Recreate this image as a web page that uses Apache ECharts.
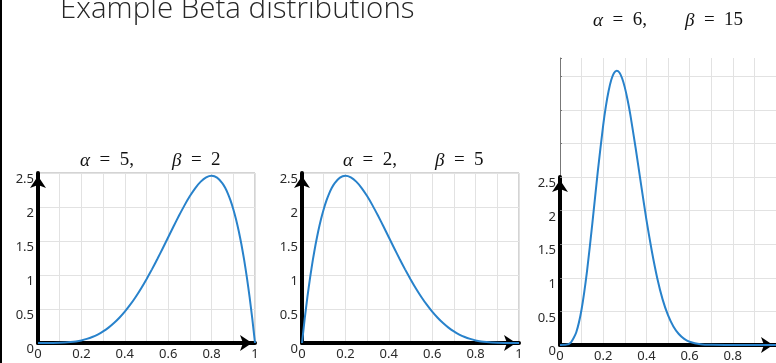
<!DOCTYPE html>
<html lang="en">
<head>
<meta charset="UTF-8">
<script src="https://cdn.jsdelivr.net/npm/echarts@6/dist/echarts.min.js"></script>
<style>
    html, body { margin: 0; padding: 0; background: #fff; }
    #main { width: 776px; height: 363px; }
</style>
</head>
<body>
<div id="main"></div>
<script type="text/javascript">
    // alpha = 5, beta = 2
    var x52 = [0, 0.05, 0.1, 0.125, 0.15, 0.175, 0.2, 0.225, 0.25, 0.275, 0.3, 0.325, 0.35, 0.375, 0.4, 0.425, 0.45, 0.475, 0.5, 0.525,
        0.55, 0.575, 0.6, 0.625, 0.65, 0.675, 0.7, 0.725, 0.75, 0.775, 0.8, 0.825, 0.85, 0.8625, 0.875, 0.8875, 0.9, 0.9125, 0.925, 0.9375,
        0.95, 0.9625, 0.975, 0.9875, 1];
    var y52 = [0, 0, 0.003, 0.006, 0.013, 0.023, 0.038, 0.060, 0.088, 0.124, 0.170, 0.226, 0.293, 0.371, 0.461, 0.563, 0.677, 0.802, 0.938, 1.083,
        1.235, 1.394, 1.555, 1.717, 1.874, 2.024, 2.161, 2.279, 2.373, 2.435, 2.458, 2.432, 2.349, 2.283, 2.198, 2.094, 1.968, 1.820, 1.647, 1.448,
        1.222, 0.966, 0.678, 0.357, 0];
    // alpha = 2, beta = 5
    var x25 = [0, 0.0125, 0.025, 0.0375, 0.05, 0.0625, 0.075, 0.0875, 0.1, 0.1125, 0.125, 0.1375, 0.15, 0.175, 0.2, 0.225, 0.25, 0.275, 0.3, 0.325,
        0.35, 0.375, 0.4, 0.425, 0.45, 0.475, 0.5, 0.525, 0.55, 0.575, 0.6, 0.625, 0.65, 0.675, 0.7, 0.725, 0.75, 0.775, 0.8, 0.825,
        0.85, 0.875, 0.9, 0.95, 1];
    var y25 = [0, 0.357, 0.678, 0.966, 1.222, 1.448, 1.647, 1.820, 1.968, 2.094, 2.198, 2.283, 2.349, 2.432, 2.458, 2.435, 2.373, 2.279, 2.161, 2.024,
        1.874, 1.717, 1.555, 1.394, 1.235, 1.083, 0.938, 0.802, 0.677, 0.563, 0.461, 0.371, 0.293, 0.226, 0.170, 0.124, 0.088, 0.060, 0.038, 0.023,
        0.013, 0.006, 0.003, 0, 0];
    // alpha = 6, beta = 15
    var x615 = [0, 0.025, 0.05, 0.075, 0.1, 0.125, 0.15, 0.175, 0.2, 0.2125, 0.225, 0.2375, 0.25, 0.2625, 0.275, 0.2875, 0.3, 0.3125, 0.325, 0.35,
        0.375, 0.4, 0.425, 0.45, 0.475, 0.5, 0.525, 0.55, 0.575, 0.6, 0.65, 0.7, 0.8, 0.9, 1];
    var y615 = [0, 0.002, 0.035, 0.185, 0.532, 1.095, 1.816, 2.584, 3.273, 3.555, 3.78, 3.947, 4.047, 4.081, 4.054, 3.969, 3.833, 3.653, 3.438, 2.935,
        2.394, 1.866, 1.398, 0.998, 0.679, 0.444, 0.276, 0.164, 0.092, 0.049, 0.012, 0.002, 0, 0, 0];

    var titles = [['5', '2'], ['2', '5'], ['6', '15']];

    function pairs(xs, ys) {
        return xs.map(function (x, i) { return [x, ys[i]]; });
    }

    var lblFont = { color: '#2a2a2a', fontSize: 13, fontFamily: 'Noto Sans' };
    var arrowLine = {
        show: true,
        symbol: ['none', 'arrow'],
        symbolSize: [12, 12],
        symbolOffset: [0, -3],
        lineStyle: { color: '#000', width: 4 }
    };
    var split = { show: true, lineStyle: { color: '#e2e2e2', width: 1 } };

    function xAx(grid, show) {
        return {
            type: 'value', gridIndex: grid, min: 0, max: 1, interval: 0.1, show: show,
            axisLine: arrowLine, axisTick: { show: false }, splitLine: split,
            axisLabel: Object.assign({ margin: 5, formatter: function (v) {
                var t = Math.round(v * 10);
                return t % 2 === 0 ? String(t / 10) : '';
            } }, lblFont)
        };
    }

    function yAx(grid) {
        return {
            type: 'value', gridIndex: grid, min: 0, max: 2.5, interval: 0.5,
            axisLine: arrowLine, axisTick: { show: false }, splitLine: split,
            axisLabel: Object.assign({ margin: 4, verticalAlign: 'top', lineHeight: 13 }, lblFont)
        };
    }

    function sub(i, left, top) {
        return {
            type: 'text', left: left, top: top,
            style: {
                text: '{i|\u03b1}  =  ' + titles[i][0] + ',        {i|\u03b2}  =  ' + titles[i][1],
                font: '19px "Liberation Serif"', fill: '#111',
                rich: { i: { fontStyle: 'italic', fontSize: 19, fontFamily: 'Liberation Serif' } }
            }
        };
    }

    var line = { color: '#2882cb', width: 2 };
    var x2 = xAx(2, true);
    x2.axisLabel.showMaxLabel = false;
    var y3 = yAx(3);
    y3.splitLine = { show: false };

    var myChart = echarts.init(document.getElementById('main'));
    var option = {
        animation: false,
        grid: [
            { left: 38, top: 173, width: 217, height: 170, show: true, borderColor: '#a8a8a8', borderWidth: 1 },
            { left: 302, top: 173, width: 217, height: 170, show: true, borderColor: '#a8a8a8', borderWidth: 1 },
            { left: 560, top: 58, width: 219, height: 287 },
            { left: 560, top: 177, width: 219, height: 168 }
        ],
        xAxis: [xAx(0, true), xAx(1, true), x2, xAx(3, false)],
        yAxis: [
            yAx(0), yAx(1),
            {
                type: 'value', gridIndex: 2, min: 0, max: 4.27, interval: 0.5,
                axisLine: { show: true, lineStyle: { color: '#777', width: 1 } },
                axisTick: { show: true, inside: true, length: 2, lineStyle: { color: '#777' } },
                axisLabel: { show: false },
                splitLine: { show: true, lineStyle: { color: ['#e2e2e2', '#e2e2e2', '#e2e2e2', '#e2e2e2', '#e2e2e2', '#e2e2e2', '#e2e2e2', '#e2e2e2', '#e2e2e2', 'transparent'] } }
            },
            y3
        ],
        series: [
            { type: 'line', xAxisIndex: 0, yAxisIndex: 0, data: pairs(x52, y52), showSymbol: false, smooth: 0.2, lineStyle: line },
            { type: 'line', xAxisIndex: 1, yAxisIndex: 1, data: pairs(x25, y25), showSymbol: false, smooth: 0.2, lineStyle: line },
            { type: 'line', xAxisIndex: 2, yAxisIndex: 2, data: pairs(x615, y615), showSymbol: false, smooth: 0.2, lineStyle: line }
        ],
        graphic: [
            { type: 'rect', left: 0, top: 0, shape: { width: 2, height: 363 }, style: { fill: '#000' } },
            {
                type: 'text', left: 60, top: -5,
                style: { text: 'Example Beta distributions', font: '300 29.5px "Open Sans"', fill: '#262626' }
            },
            sub(0, 80, 151),
            sub(1, 343, 151),
            sub(2, 593, 11)
        ]
    };
    myChart.setOption(option);
</script>
</body>
</html>
